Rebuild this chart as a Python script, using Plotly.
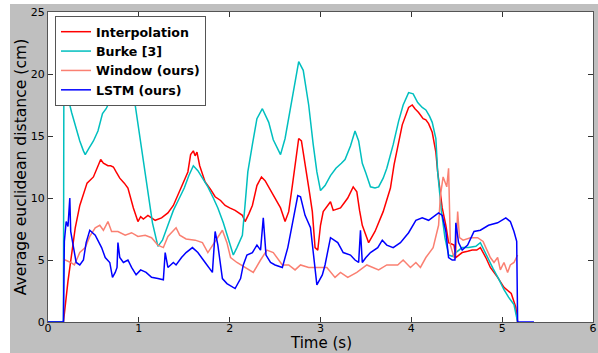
import plotly.graph_objects as go

# ---------------- data ----------------
t_interp = [0.0, 0.17, 0.22, 0.25, 0.3, 0.35, 0.43, 0.5, 0.55, 0.58,
            0.61, 0.63, 0.66, 0.69, 0.72, 0.75, 0.79, 0.84, 0.88, 0.94,
            0.99, 1.02, 1.05, 1.1, 1.14, 1.18, 1.25, 1.32, 1.38, 1.43,
            1.49, 1.54, 1.57, 1.6, 1.62, 1.64, 1.67, 1.73, 1.79, 1.84,
            1.9, 1.95, 2.0, 2.06, 2.14, 2.17, 2.21, 2.25, 2.3, 2.35,
            2.39, 2.43, 2.5, 2.56, 2.61, 2.65, 2.69, 2.73, 2.76, 2.79,
            2.81, 2.85, 2.88, 2.91, 2.94, 2.97, 3.0, 3.03, 3.07, 3.11,
            3.14, 3.18, 3.22, 3.26, 3.3, 3.36, 3.4, 3.43, 3.46, 3.53,
            3.6, 3.69, 3.77, 3.81, 3.86, 3.9, 3.97, 4.01, 4.04, 4.08,
            4.13, 4.16, 4.19, 4.23, 4.27, 4.29, 4.34, 4.38, 4.41, 4.47,
            4.49, 4.56, 4.62, 4.67, 4.72, 4.76, 4.82, 4.87, 4.95, 5.02,
            5.1, 5.15, 5.17]
v_interp = [0, 0, 3.3, 5.0, 7.6, 9.4, 11.2, 11.7, 12.5, 13.1,
            12.8, 12.7, 12.6, 12.6, 12.5, 12.1, 11.6, 11.2, 10.8, 9.2,
            8.1, 8.5, 8.3, 8.6, 8.4, 8.2, 8.4, 8.8, 9.4, 10.2,
            11.2, 12.1, 13.5, 13.8, 13.4, 13.7, 12.6, 11.3, 10.7, 10.1,
            9.8, 9.4, 9.2, 9.0, 8.6, 8.1, 8.7, 9.4, 11.0, 11.7,
            11.4, 10.9, 10.0, 9.2, 8.1, 8.9, 11.0, 13.0, 14.8, 14.6,
            13.7, 12.1, 10.4, 8.9, 6.0, 5.8, 7.8, 8.9, 9.3, 9.7,
            9.0, 9.1, 9.2, 9.6, 10.0, 10.9, 10.5, 9.0, 7.8, 6.4,
            7.3, 8.9, 10.8, 12.7, 14.4, 15.9, 17.3, 17.5, 17.2, 16.9,
            16.4, 16.3, 16.0, 15.3, 13.7, 12.1, 9.2, 7.8, 6.4, 6.2,
            5.2, 5.6, 5.7, 5.8, 5.8, 6.0, 5.2, 4.4, 3.6, 2.8,
            2.3, 1.2, 0]

t_burke = [0.0, 0.17, 0.175, 0.2, 0.22, 0.26, 0.3, 0.35, 0.39, 0.41,
           0.45, 0.5, 0.55, 0.6, 0.64, 0.68, 0.72, 0.76, 0.8, 0.85,
           0.9, 0.95, 1.0, 1.05, 1.1, 1.15, 1.21, 1.26, 1.32, 1.38,
           1.44, 1.5, 1.55, 1.6, 1.65, 1.7, 1.76, 1.82, 1.87, 1.93,
           1.98, 2.04, 2.08, 2.14, 2.17, 2.2, 2.25, 2.3, 2.36, 2.43, 2.48,
           2.56, 2.61, 2.69, 2.76, 2.81, 2.87, 2.92, 2.96, 3.0, 3.05,
           3.11, 3.17, 3.23, 3.27, 3.33, 3.38, 3.42, 3.46, 3.5, 3.55,
           3.6, 3.64, 3.69, 3.73, 3.8, 3.86, 3.91, 3.97, 4.02, 4.07,
           4.12, 4.16, 4.2, 4.23, 4.27, 4.29, 4.33, 4.37, 4.41, 4.45,
           4.49, 4.56, 4.63, 4.71, 4.76, 4.8, 4.85, 4.9, 4.96, 5.02,
           5.07, 5.13, 5.17]
v_burke = [0, 0, 21.0, 19.5, 18.1, 16.9, 15.8, 14.6, 13.8, 13.5,
           14.0, 14.6, 15.4, 16.8, 17.2, 17.8, 18.2, 18.9, 19.6, 19.8,
           19.3, 18.0, 15.5, 13.2, 10.6, 8.0, 6.1, 6.6, 7.8, 9.0,
           9.9, 10.8, 11.8, 12.6, 12.2, 11.6, 10.9, 10.0, 9.2, 8.0,
           6.8, 5.4, 6.0, 7.0, 9.5, 12.1, 14.3, 16.4, 17.2, 16.1, 14.7,
           13.5, 14.8, 18.0, 21.0, 20.3, 17.5, 14.3, 12.1, 10.6, 11.0,
           11.8, 12.4, 12.8, 13.1, 14.2, 15.4, 14.6, 12.8, 12.0, 10.9,
           10.8, 10.9, 11.6, 12.4, 14.3, 16.2, 17.5, 18.5, 18.4, 17.7,
           17.3, 17.1, 16.6, 16.1, 14.8, 12.1, 9.0, 6.8, 5.4, 5.3,
           5.6, 6.0, 6.0, 6.1, 6.4, 5.8, 5.0, 4.3, 3.5, 2.6,
           2.0, 1.4, 0]

t_window = [0.17, 0.19, 0.25, 0.29, 0.35, 0.41, 0.46, 0.52, 0.57, 0.61,
            0.66, 0.7, 0.77, 0.85, 0.92, 0.99, 1.07, 1.14, 1.21, 1.27,
            1.32, 1.41, 1.45, 1.52, 1.62, 1.7, 1.76, 1.84, 1.92, 1.97,
            2.01, 2.08, 2.17, 2.26, 2.34, 2.41, 2.48, 2.58, 2.65, 2.72,
            2.78, 2.87, 2.94, 3.02, 3.07, 3.16, 3.22, 3.3, 3.4, 3.51,
            3.64, 3.73, 3.85, 3.91, 3.99, 4.05, 4.1, 4.16, 4.24, 4.3,
            4.32, 4.35, 4.39, 4.41, 4.43, 4.47, 4.49, 4.51, 4.53, 4.57,
            4.65, 4.73, 4.79, 4.82, 4.87, 4.91, 4.95, 4.98, 5.02, 5.06,
            5.09, 5.13, 5.17]
v_window = [5.0, 5.0, 4.8, 4.6, 5.6, 6.0, 6.9, 7.6, 7.8, 7.4,
            8.1, 7.3, 7.3, 7.0, 7.2, 6.9, 7.0, 6.8, 6.2, 6.0,
            6.9, 7.6, 7.0, 6.7, 6.6, 6.4, 5.6, 6.5, 7.4, 6.4,
            5.2, 4.8, 4.4, 4.0, 5.0, 5.8, 5.6, 4.6, 4.6, 4.2,
            4.6, 4.4, 4.4, 4.4, 4.4, 3.6, 4.0, 3.6, 4.0, 4.6,
            4.2, 4.6, 4.6, 5.0, 4.4, 4.8, 4.4, 5.2, 6.0, 7.8,
            10.2, 11.7, 10.9, 12.4, 6.2, 5.2, 5.5, 8.9, 6.8, 6.6,
            6.8, 6.8, 6.5, 6.0, 5.2, 4.8, 5.2, 4.2, 4.8, 4.0,
            4.6, 4.8, 5.4]

t_lstm = [0.0, 0.17, 0.18, 0.2, 0.22, 0.24, 0.25, 0.29, 0.31, 0.35,
          0.39, 0.42, 0.46, 0.52, 0.55, 0.59, 0.63, 0.68, 0.71, 0.74,
          0.76, 0.77, 0.79, 0.83, 0.88, 0.92, 0.97, 1.02, 1.08, 1.14,
          1.21, 1.27, 1.29, 1.32, 1.38, 1.41, 1.47, 1.52, 1.59, 1.65,
          1.73, 1.81, 1.84, 1.87, 1.92, 1.97, 2.06, 2.12, 2.15, 2.19,
          2.25, 2.3, 2.34, 2.37, 2.4, 2.45, 2.5, 2.58, 2.64, 2.69,
          2.75, 2.78, 2.83, 2.89, 2.92, 2.96, 3.02, 3.05, 3.11, 3.19,
          3.25, 3.33, 3.38, 3.42, 3.44, 3.46, 3.5, 3.55, 3.63, 3.68,
          3.73, 3.8, 3.88, 3.97, 4.05, 4.12, 4.19, 4.24, 4.3, 4.34,
          4.38, 4.41, 4.45, 4.48, 4.49, 4.52, 4.56, 4.62, 4.69, 4.76,
          4.85, 4.95, 5.04, 5.09, 5.13, 5.16, 5.17, 5.35]
v_lstm = [0, 0, 6.5, 8.1, 7.7, 10.0, 7.3, 5.6, 4.8, 4.6,
          5.0, 6.4, 7.4, 7.0, 6.6, 6.0, 5.2, 4.8, 3.6, 4.0,
          4.4, 6.4, 5.2, 4.8, 5.0, 4.4, 3.8, 4.2, 4.0, 3.6,
          3.5, 3.4, 5.6, 4.4, 4.8, 4.6, 5.2, 5.6, 6.0, 5.6,
          4.8, 4.0, 7.3, 6.2, 3.5, 3.1, 2.7, 3.5, 4.6, 5.4,
          5.6, 6.2, 5.8, 8.4, 5.4, 4.8, 4.6, 4.4, 6.0, 7.8,
          10.2, 10.1, 8.6, 7.6, 5.6, 3.0, 3.8, 4.6, 6.8, 6.4,
          5.6, 5.4, 5.0, 4.8, 7.4, 4.8, 5.2, 5.6, 6.0, 6.6,
          6.2, 6.0, 6.4, 7.2, 8.2, 8.4, 8.2, 8.5, 8.8, 8.6,
          7.3, 5.2, 5.0, 5.0, 8.0, 6.4, 5.8, 6.2, 7.3, 7.4,
          7.8, 8.0, 8.4, 8.1, 7.3, 6.5, 0, 0]

series_names = ["Interpolation", "Burke [3]", "Window (ours)", "LSTM (ours)"]
series_colors = ["#ff0000", "#00bfbf", "#fa8072", "#0000ff"]
x_ticks = [0, 1, 2, 3, 4, 5, 6]
y_ticks = [0, 5, 10, 15, 20, 25]
x_title = "Time (s)"
y_title = "Average euclidean distance (cm)"

# ---------------- figure ----------------
W, H = 598, 353
ML, MR, MT, MB = 48, 5, 12, 31
PW, PH = W - ML - MR, H - MT - MB
FONT = "DejaVu Sans"

fig = go.Figure()
for (tx, vy), name, col in zip(
        [(t_interp, v_interp), (t_burke, v_burke), (t_window, v_window), (t_lstm, v_lstm)],
        series_names, series_colors):
    fig.add_trace(go.Scatter(x=tx, y=vy, mode="lines", name=name,
                             line=dict(color=col, width=1.5)))

def px_x(p):
    return (p - ML) / PW

def px_y(p):
    return 1 - (p - MT) / PH

fig.update_layout(
    width=W, height=H,
    margin=dict(l=ML, r=MR, t=MT, b=MB, autoexpand=False),
    paper_bgcolor="#bfbfbf",
    plot_bgcolor="white",
    font=dict(family=FONT, color="black", size=11),
    showlegend=True,
    legend=dict(
        x=px_x(55), y=px_y(16), xanchor="left", yanchor="top",
        bgcolor="white", bordercolor="#555", borderwidth=1,
        font=dict(family=FONT, size=12.6, color="black", weight="bold"),
        tracegroupgap=0,
    ),
    shapes=[
        dict(type="rect", xref="paper", yref="paper",
             x0=px_x(0), x1=px_x(10), y0=px_y(H), y1=px_y(0),
             fillcolor="white", line=dict(width=0), layer="below"),
        dict(type="rect", xref="paper", yref="paper",
             x0=px_x(0), x1=px_x(W), y0=px_y(4), y1=px_y(0),
             fillcolor="white", line=dict(width=0), layer="below"),
    ],
    annotations=[
        dict(text=x_title, xref="paper", yref="paper", x=0.5, y=px_y(343),
             xanchor="center", yanchor="middle", showarrow=False, borderpad=0,
             font=dict(family=FONT, size=15, color="black")),
    ],
)

axis_common = dict(
    showgrid=False, zeroline=False, showline=True, linecolor="#555", linewidth=1,
    mirror="ticks", ticks="inside", ticklen=5, tickcolor="#333", tickwidth=1,
    tickfont=dict(family=FONT, size=11, color="black"),
)
fig.update_xaxes(range=[0, 6], tickvals=x_ticks, ticktext=[str(v) for v in x_ticks],
                 ticklabelstandoff=-4,
                 **axis_common)
fig.update_yaxes(range=[0, 25], tickvals=y_ticks, ticktext=[str(v) for v in y_ticks],
                 title=dict(text=y_title,
                            font=dict(family=FONT, size=15.6, color="black"), standoff=0),
                 **axis_common)

fig.write_html("out.html")
